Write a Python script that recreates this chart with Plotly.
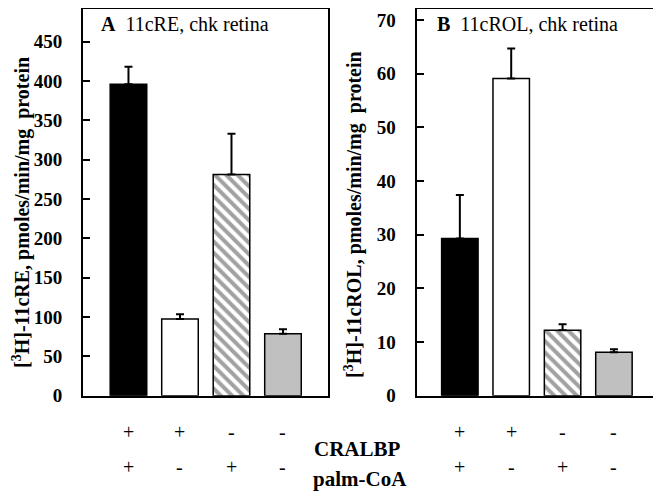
import plotly.graph_objects as go

categories = [0, 1, 2, 3]
cralbp = ["+", "+", "-", "-"]
palm_coa = ["+", "-", "+", "-"]

re_values = [396, 97.5, 281, 78.6]
re_errors = [22, 6, 52, 6]
rol_values = [29.3, 59.1, 12.2, 8.1]
rol_errors = [8.1, 5.6, 1.1, 0.55]

a_ticks = [0, 50, 100, 150, 200, 250, 300, 350, 400, 450]
b_ticks = [0, 10, 20, 30, 40, 50, 60, 70]

colors = ["black", "white", "white", "#c0c0c0"]
patterns = ["", "", "\\", ""]
FONT = "Liberation Serif, Times New Roman, serif"

W, H = 661, 495
OFF = 8  # page body margin offset


def X(p):
    return (p - OFF) / W


def Y(p):
    return 1 - (p - OFF) / H


fig = go.Figure()


def add_bars(vals, errs, xa, ya):
    fig.add_trace(go.Bar(
        x=categories, y=vals, xaxis=xa, yaxis=ya, width=0.71,
        marker=dict(color=colors, line=dict(color="black", width=1.5),
                    pattern=dict(shape=patterns, fgcolor="black", bgcolor="white",
                                 size=8, solidity=0.5)),
        error_y=dict(type="data", symmetric=False, array=errs,
                     arrayminus=[0] * len(errs), color="black",
                     thickness=2, width=4),
        showlegend=False, hoverinfo="skip"))


add_bars(re_values, re_errors, "x", "y")
add_bars(rol_values, rol_errors, "x2", "y2")

ydom = [Y(395.7), Y(9)]
xcommon = dict(showticklabels=False, ticks="",
               showline=True, mirror=True, linecolor="black", linewidth=2,
               showgrid=False, zeroline=False, fixedrange=True, automargin=False)
ycommon = dict(showline=True, mirror=True, linecolor="black", linewidth=2,
               ticks="inside", ticklen=7, tickwidth=1.5, tickcolor="black",
               ticklabelstandoff=15, automargin=False,
               showgrid=False, zeroline=False,
               tickfont=dict(family=FONT, size=19, color="black", weight="bold"))

fig.update_layout(
    width=W, height=H,
    margin=dict(l=0, r=0, t=0, b=0, autoexpand=False),
    paper_bgcolor="white", plot_bgcolor="white",
    xaxis=dict(domain=[X(83), X(328)], anchor="y", range=[-0.883, 3.874], **xcommon),
    xaxis2=dict(domain=[X(416.5), X(660)], anchor="y2", range=[-0.844, 3.897], **xcommon),
    yaxis=dict(domain=ydom, anchor="x", range=[0, 491.5], tickvals=a_ticks, **ycommon),
    yaxis2=dict(domain=ydom, anchor="x2", range=[0, 72.05], tickvals=b_ticks, **ycommon),
)

ann = []
ann.append(dict(x=X(99), y=Y(24), xref="paper", yref="paper",
                xanchor="left", yanchor="middle", showarrow=False,
                text="<b>A</b>&nbsp; 11cRE, chk retina",
                font=dict(family=FONT, size=20, color="black")))
ann.append(dict(x=X(435), y=Y(24), xref="paper", yref="paper",
                xanchor="left", yanchor="middle", showarrow=False,
                text="<b>B</b>&nbsp; 11cROL, chk retina",
                font=dict(family=FONT, size=20, color="black")))
ann.append(dict(x=X(21), y=Y(213), xref="paper", yref="paper",
                xanchor="center", yanchor="middle", showarrow=False, textangle=-90,
                text="<b>[<sup>3</sup>H]-11cRE, pmoles/min/mg&nbsp; protein</b>",
                font=dict(family=FONT, size=20, color="black")))
ann.append(dict(x=X(353), y=Y(215), xref="paper", yref="paper",
                xanchor="center", yanchor="middle", showarrow=False, textangle=-90,
                text="<b>[<sup>3</sup>H]-11cROL, pmoles/min/mg&nbsp; protein</b>",
                font=dict(family=FONT, size=20, color="black")))
for xa in ["x", "x2"]:
    for c, s1, s2 in zip(categories, cralbp, palm_coa):
        ann.append(dict(x=c, y=Y(445), xref=xa, yref="paper", showarrow=False,
                        text=s1, font=dict(family=FONT, size=20, color="black")))
        ann.append(dict(x=c, y=Y(480), xref=xa, yref="paper", showarrow=False,
                        text=s2, font=dict(family=FONT, size=20, color="black")))
ann.append(dict(x=X(312), y=Y(449), xref="paper", yref="paper",
                xanchor="left", yanchor="middle", showarrow=False, text="<b>CRALBP</b>",
                font=dict(family=FONT, size=21, color="black")))
ann.append(dict(x=X(311), y=Y(479), xref="paper", yref="paper",
                xanchor="left", yanchor="middle", showarrow=False, text="<b>palm-CoA</b>",
                font=dict(family=FONT, size=21, color="black")))
fig.update_layout(annotations=ann)

fig.write_html("out.html")
